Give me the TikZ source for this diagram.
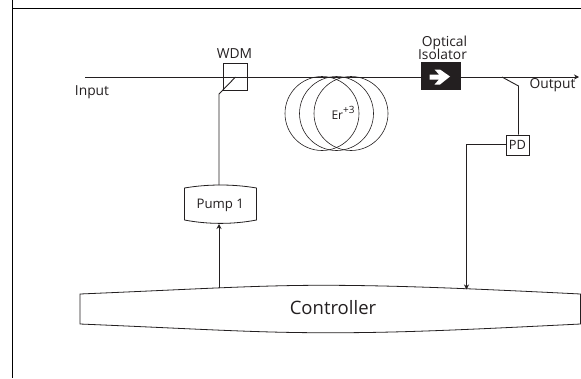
\documentclass[tikz,border=0pt]{standalone}
\usepackage{fontspec}
\setmainfont{Open Sans}
\usetikzlibrary{arrows.meta}
\definecolor{ink}{HTML}{231F20}
\tikzset{
  wire/.style={draw=ink,line width=0.9pt},
  thin wire/.style={draw=ink,line width=0.6pt},
  tip/.style={-{Stealth[length=5pt,width=5pt]}},
  lbl/.style={inner sep=0pt,text=ink,font=\fontsize{13.8}{14}\selectfont},
  boxed/.style={draw=ink,line width=0.7pt,fill=white,inner sep=0pt},
  curved/.style={draw=ink,line width=0.8pt,fill=white}
}
\begin{document}
\begin{tikzpicture}[x=1pt,y=-1pt]
\useasboundingbox (0,0) rectangle (581,378);
% frame
\coordinate (fa) at (12.7,0); \coordinate (fb) at (12.7,378);
\coordinate (fc) at (12.7,8.3); \coordinate (fd) at (581,8.3);
\draw[draw=black,line width=0.9pt] (fa) -- (fb) (fc) -- (fd);
% coils
\foreach \n/\c in {a/322,b/336.5,c/351}
  \draw[thin wire] (\c,113.5) ellipse [x radius=37,y radius=37];
% fibre
\coordinate (in) at (85,77); \coordinate (out) at (579,77);
\draw[wire,tip] (in) -- (out);
% WDM
\node[draw=ink,line width=0.7pt,minimum width=24.5pt,minimum height=26.5pt,inner sep=0pt] (wdm) at (235.2,77) {};
\coordinate (wdmc) at (235.5,77); \coordinate (wdmk) at (219,94);
% isolator
\node[fill=ink,minimum width=40pt,minimum height=28pt,inner sep=0pt] (iso) at (441,76) {};
\fill[white] (429.5,74.5) -- (439,74.5) -- (434.5,69.5) -- (440,69.5) -- (450,76.5) -- (440,84.5) -- (434.5,84.5) -- (439,79.5) -- (429.5,79.5) -- cycle;
% pump
\path[curved] (184.5,188) .. controls (208,184) and (233,184) .. (256.5,188)
  -- (256.5,220) .. controls (233,224.5) and (208,224.5) .. (184.5,220) -- cycle;
\node[lbl,font=\fontsize{13.2}{14}\selectfont] (pump) at (220.3,205.5) {Pump 1};
\coordinate (pumpT) at (219,185.2); \coordinate (pumpB) at (219,224);
% controller
\path[curved] (80,294) .. controls (200,289) and (260,285) .. (330,285.3)
  .. controls (400,285.5) and (480,289) .. (580.5,294) -- (580.5,324)
  .. controls (480,329) and (400,333) .. (330,332.7)
  .. controls (260,333) and (200,329) .. (80,324) -- cycle;
\node[lbl,font=\fontsize{18.5}{20}\selectfont] (ctrl) at (333,308) {Controller};
\coordinate (ctrlA) at (219,288.3); \coordinate (ctrlB) at (466.5,289.5);
% PD
\node[boxed,minimum width=23pt,minimum height=20pt,font=\fontsize{12.8}{14}\selectfont,text=ink] (pd) at (517.5,145) {PD};
\coordinate (tap) at (502,77); \coordinate (tapk) at (518.5,86);
\coordinate (pdc) at (466.5,144.5);
% connectors
\draw[wire] (wdmc) -- (wdmk) -- (pumpT);
\draw[wire,tip] (ctrlA) -- (pumpB);
\draw[wire] (tap) -- (tapk) -- (tapk |- pd.north);
\draw[wire,tip] (pd.west |- pdc) -- (pdc) -- (ctrlB);
% labels
\node[lbl] (wdml) at (234.5,54) {WDM};
\node[lbl] (inl) at (92,92) {Input};
\node[lbl] (outl) at (552.5,85.5) {Output};
\node[lbl] (opt) at (444.5,42.5) {Optical};
\node[lbl] (isol) at (442.5,54.5) {Isolator};
\node[lbl,font=\fontsize{12}{13}\selectfont] (er) at (343,113) {Er\raisebox{0.45em}{\fontsize{10}{11}\selectfont +3}};
\end{tikzpicture}
\end{document}
